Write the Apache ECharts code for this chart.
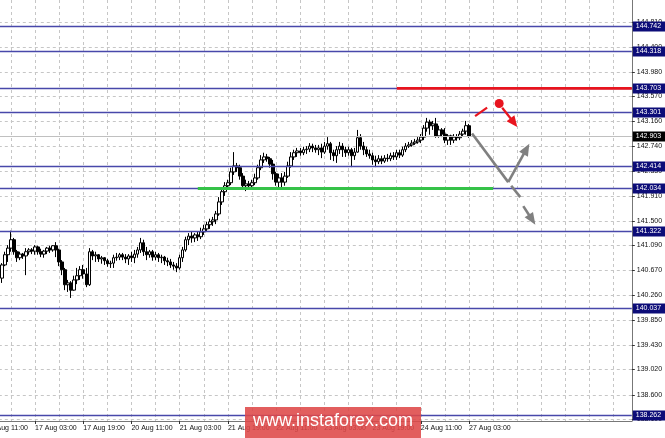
<!DOCTYPE html>
<html>
<head>
<meta charset="utf-8">
<script src="https://cdn.jsdelivr.net/npm/echarts@6/dist/echarts.min.js"></script>
<style>
html,body{margin:0;padding:0;background:#fff;}
#chart{width:665px;height:438px;}
</style>
</head>
<body>
<div id="chart"></div>
<script>
// ---------- DATA ----------
// hourly bars, weekends skipped; first category 16 Aug 11:00
const categoryStart = [2018, 7, 16, 11];
const categoryCount = 215;
const firstBar = '16 Aug 16:00';
const lastLabelled = '27 Aug 03:00';

// [open, close, low, high]
const candles = [
[140.54,140.76,140.46,140.79],[140.76,140.93,140.74,140.98],[140.93,141.04,140.81,141.09],[141.04,141.18,140.98,141.33],
[141.18,140.98,140.93,141.21],[140.98,140.88,140.81,141.01],[140.88,140.94,140.84,140.98],[140.94,140.91,140.86,140.96],
[140.91,140.98,140.59,141.04],[140.98,141.01,140.93,141.04],[141.01,140.99,140.94,141.04],[140.99,141.06,140.93,141.09],
[141.06,140.98,140.93,141.08],[140.98,140.94,140.89,141.03],[140.94,140.99,140.88,141.01],[140.99,141.04,140.94,141.06],
[141.04,141.01,140.96,141.08],[141.01,141.08,140.98,141.09],[141.08,141.01,140.89,141.14],[141.01,140.81,140.74,141.03],
[140.81,140.68,140.59,140.84],[140.68,140.43,140.34,140.71],[140.43,140.46,140.31,140.51],[140.46,140.34,140.21,140.49],
[140.34,140.51,140.33,140.58],[140.51,140.58,140.44,140.71],[140.58,140.68,140.51,140.74],[140.68,140.61,140.53,140.76],
[140.61,140.43,140.39,140.71],[140.43,140.98,140.41,141.04],[140.98,140.91,140.84,141.01],[140.91,140.93,140.81,140.98],
[140.93,140.86,140.81,140.94],[140.86,140.88,140.78,140.91],[140.88,140.83,140.76,140.89],[140.83,140.78,140.73,140.86],
[140.78,140.79,140.71,140.83],[140.79,140.88,140.71,140.93],[140.88,140.89,140.83,140.96],[140.89,140.93,140.84,140.96],
[140.93,140.89,140.84,140.96],[140.89,140.86,140.79,140.94],[140.86,140.91,140.76,140.94],[140.91,140.88,140.81,140.98],
[140.88,140.94,140.79,141.01],[140.94,141.01,140.88,141.06],[141.01,141.13,140.96,141.21],[141.13,140.98,140.91,141.18],
[140.98,140.93,140.84,141.06],[140.93,140.98,140.88,141.01],[140.98,140.89,140.83,141.01],[140.89,140.93,140.84,140.98],
[140.93,140.88,140.81,140.96],[140.88,140.89,140.79,140.93],[140.89,140.83,140.76,140.91],[140.83,140.81,140.74,140.88],
[140.81,140.76,140.71,140.86],[140.76,140.74,140.68,140.81],[140.74,140.71,140.64,140.79],[140.71,140.88,140.68,140.93],
[140.88,141.01,140.81,141.06],[141.01,141.18,140.98,141.23],[141.18,141.24,141.09,141.29],[141.24,141.21,141.13,141.31],
[141.21,141.26,141.14,141.29],[141.26,141.23,141.16,141.31],[141.23,141.31,141.19,141.38],[141.31,141.36,141.26,141.43],
[141.36,141.43,141.31,141.48],[141.43,141.48,141.36,141.53],[141.48,141.51,141.41,141.56],[141.51,141.61,141.44,141.66],
[141.61,141.81,141.58,141.89],[141.81,141.98,141.76,142.04],[141.98,142.08,141.91,142.14],[142.08,142.13,142.01,142.18],
[142.13,142.31,142.09,142.38],[142.31,142.41,142.26,142.64],[142.41,142.38,142.31,142.46],[142.38,142.24,142.18,142.43],
[142.24,142.08,142.01,142.29],[142.08,142.11,141.99,142.18],[142.11,142.08,142.01,142.16],[142.08,142.13,142.01,142.18],
[142.13,142.21,142.09,142.28],[142.21,142.38,142.18,142.43],[142.38,142.51,142.34,142.59],[142.51,142.56,142.46,142.63],
[142.56,142.53,142.48,142.61],[142.53,142.44,142.38,142.56],[142.44,142.28,142.18,142.51],[142.28,142.14,142.08,142.31],
[142.14,142.21,142.01,142.28],[142.21,142.14,142.04,142.29],[142.14,142.24,142.08,142.31],[142.24,142.41,142.21,142.48],
[142.41,142.56,142.38,142.64],[142.56,142.63,142.51,142.68],[142.63,142.66,142.56,142.71],[142.66,142.63,142.58,142.71],
[142.63,142.68,142.59,142.73],[142.68,142.69,142.61,142.74],[142.69,142.74,142.64,142.79],[142.74,142.71,142.64,142.78],
[142.71,142.68,142.63,142.76],[142.68,142.71,142.59,142.76],[142.71,142.64,142.54,142.78],[142.64,142.74,142.61,142.81],
[142.74,142.78,142.68,142.89],[142.78,142.63,142.51,142.81],[142.63,142.58,142.49,142.68],[142.58,142.68,142.46,142.74],
[142.68,142.74,142.61,142.81],[142.74,142.68,142.56,142.79],[142.68,142.63,142.56,142.73],[142.63,142.68,142.58,142.73],
[142.68,142.58,142.39,142.71],[142.58,142.64,142.51,142.71],[142.64,142.88,142.63,143.01],[142.88,142.74,142.68,142.94],
[142.74,142.68,142.59,142.81],[142.68,142.61,142.56,142.73],[142.61,142.58,142.53,142.68],[142.58,142.51,142.43,142.63],
[142.51,142.48,142.39,142.58],[142.48,142.53,142.44,142.59],[142.53,142.49,142.44,142.58],[142.49,142.54,142.46,142.59],
[142.54,142.53,142.48,142.61],[142.53,142.58,142.49,142.63],[142.58,142.56,142.51,142.64],[142.56,142.63,142.51,142.68],
[142.63,142.59,142.54,142.68],[142.59,142.68,142.56,142.73],[142.68,142.74,142.64,142.79],[142.74,142.76,142.71,142.81],
[142.76,142.79,142.73,142.84],[142.79,142.81,142.76,142.86],[142.81,142.84,142.78,142.89],[142.84,142.89,142.79,142.94],
[142.89,143.04,142.84,143.09],[143.04,143.14,142.98,143.21],[143.14,143.08,142.93,143.18],[143.08,143.11,143.01,143.16],
[143.11,142.91,142.88,143.21],[142.91,143.01,142.88,143.08],[143.01,142.94,142.89,143.04],[142.94,142.84,142.79,143.04],
[142.84,142.91,142.76,142.94],[142.91,142.84,142.76,142.93],[142.84,142.89,142.79,142.94],[142.89,142.88,142.83,142.94],
[142.88,142.94,142.84,142.99],[142.94,142.99,142.91,143.03],[142.99,143.08,142.93,143.16],[143.08,142.903,142.88,143.11]
];

const tickLabels = ['138.190','138.600','139.020','139.430','139.850','140.260','140.670','141.090','141.500',
  '141.910','142.330','142.740','143.160','143.570','143.980','144.400','144.810'];
const levelPrices = [144.742, 144.318, 143.703, 143.301, 142.414, 142.034, 141.322, 140.037, 138.262];
const lastPrice = 142.903;
const priceMin = 138.159, priceMax = 145.175;

// zones in (category index, price)
const redZone = [135.8, 214, 143.703];
const greenZone = [69.7, 168.0, 142.034];

// forecast drawings in (category index, price)
const redSegment = [[161.6, 143.24], [165.9, 143.38]];
const redDot = [169.9, 143.45];
const redArrow = [[170.9, 143.38], [175.6, 143.06]];
const greyLine = [[160.6, 142.95], [172.7, 142.14]];
const greyUpArrow = [[172.7, 142.14], [180.0, 142.78]];
const greyDash = [[174.2, 142.08], [176.7, 141.89]];
const greyDownArrow = [[178.0, 141.74], [181.9, 141.43]];

// ---------- BUILD ----------
const MONTHS = ['Jan','Feb','Mar','Apr','May','Jun','Jul','Aug','Sep','Oct','Nov','Dec'];
const categories = [];
let t = Date.UTC(categoryStart[0], categoryStart[1], categoryStart[2], categoryStart[3]);
while (categories.length < categoryCount) {
  const d = new Date(t);
  const wd = d.getUTCDay();
  if (wd !== 0 && wd !== 6) {
    const hh = String(d.getUTCHours()).padStart(2, '0');
    categories.push(d.getUTCDate() + ' ' + MONTHS[d.getUTCMonth()] + ' ' + hh + ':00');
  }
  t += 3600000;
}
const firstIndex = categories.indexOf(firstBar);
const lastLabelIndex = categories.indexOf(lastLabelled);
const candleData = candles.map((r, k) => [firstIndex + k, r[0], r[1], r[2], r[3]]);
const labelShown = (index) => index % 16 === 0 && index <= lastLabelIndex;

const FONT = 'Liberation Sans, Arial, sans-serif';
const chart = echarts.init(document.getElementById('chart'), null, {renderer: 'canvas'});

function px(api, x, y) { return api.coord([x, y]); }
function crisp(v) { return Math.round(v) + 0.5; }

function arrowShapes(api, p1, p2, color, width, headLen, headW) {
  const a = px(api, p1[0], p1[1]), b = px(api, p2[0], p2[1]);
  const dx = b[0] - a[0], dy = b[1] - a[1];
  const len = Math.sqrt(dx * dx + dy * dy);
  const ux = dx / len, uy = dy / len;
  const bx = b[0] - ux * headLen, by = b[1] - uy * headLen;
  return [
    {type: 'line', shape: {x1: a[0], y1: a[1], x2: bx + ux, y2: by + uy}, style: {stroke: color, lineWidth: width}},
    {type: 'polygon', shape: {points: [[b[0], b[1]], [bx - uy * headW / 2, by + ux * headW / 2], [bx + uy * headW / 2, by - ux * headW / 2]]},
      style: {fill: color}}
  ];
}

const option = {
  animation: false,
  backgroundColor: '#ffffff',
  grid: {left: -13.2, right: 33.2, top: 0, bottom: 17, containLabel: false, outerBoundsMode: 'none'},
  xAxis: {
    type: 'category',
    data: categories,
    boundaryGap: false,
    axisLine: {show: true, lineStyle: {color: '#777', width: 1}},
    axisTick: {show: true, interval: labelShown, length: 3, lineStyle: {color: '#333'}},
    axisLabel: {interval: labelShown, align: 'left', fontSize: 7, color: '#111', margin: 4, fontFamily: FONT},
    splitLine: {show: true, interval: 7, lineStyle: {color: '#c6c6c6', width: 1, type: [3, 3]}}
  },
  yAxis: {
    type: 'value',
    position: 'right',
    min: priceMin,
    max: priceMax,
    scale: true,
    axisLine: {show: true, lineStyle: {color: '#777', width: 1}},
    axisTick: {show: false},
    axisLabel: {show: false},
    splitLine: {show: false}
  },
  series: [
    {
      name: 'ticks',
      type: 'custom',
      z: 1,
      silent: true,
      data: tickLabels.map((s, i) => [i, parseFloat(s)]),
      encode: {x: 0, y: 1},
      renderItem: function (params, api) {
        const cs = params.coordSys;
        const i = api.value(0);
        const y = crisp(px(api, 0, api.value(1))[1]);
        const right = cs.x + cs.width;
        return {type: 'group', children: [
          {type: 'line', shape: {x1: cs.x, y1: y, x2: right, y2: y}, style: {stroke: '#c6c6c6', lineWidth: 1, lineDash: [3, 3]}},
          {type: 'line', shape: {x1: right, y1: y, x2: right + 3, y2: y}, style: {stroke: '#333', lineWidth: 1}},
          {type: 'text', x: right + 5, y: y, style: {text: tickLabels[i], fill: '#111', font: '7px ' + FONT, align: 'left', verticalAlign: 'middle'}}
        ]};
      }
    },
    {
      name: 'USDJPY',
      type: 'candlestick',
      z: 3,
      data: candleData,
      encode: {x: 0, y: [1, 2, 3, 4]},
      barWidth: 3,
      itemStyle: {color: '#ffffff', color0: '#000000', borderColor: '#000000', borderColor0: '#000000', borderWidth: 1}
    },
    {
      name: 'levels',
      type: 'custom',
      z: 4,
      silent: true,
      data: levelPrices.map((v, i) => [i, v]).concat([[-1, lastPrice]]),
      encode: {x: 0, y: 1},
      renderItem: function (params, api) {
        const cs = params.coordSys;
        const isLast = api.value(0) < 0;
        const v = api.value(1);
        const y = crisp(px(api, 0, v)[1]);
        const right = cs.x + cs.width;
        return {type: 'group', children: [
          {type: 'line', shape: {x1: cs.x, y1: y, x2: right, y2: y},
            style: {stroke: isLast ? '#c0c0c0' : '#4848aa', lineWidth: isLast ? 1 : 1.5}},
          {type: 'rect', shape: {x: right + 1, y: y - 5, width: 33, height: 10},
            style: {fill: isLast ? '#000000' : '#0c0c78'}},
          {type: 'text', x: right + 4, y: y, style: {text: v.toFixed(3), fill: '#ffffff', font: '7px ' + FONT, align: 'left', verticalAlign: 'middle'}}
        ]};
      }
    },
    {
      name: 'zones',
      type: 'custom',
      z: 5,
      silent: true,
      data: [[0, redZone[2]], [0, greenZone[2]]],
      encode: {x: 0, y: 1},
      renderItem: function (params, api) {
        const z = params.dataIndex === 0 ? redZone : greenZone;
        const color = params.dataIndex === 0 ? '#e8141e' : '#35c248';
        const a = px(api, z[0], z[2]), b = px(api, z[1], z[2]);
        return {type: 'line', shape: {x1: a[0], y1: a[1], x2: b[0], y2: b[1]}, style: {stroke: color, lineWidth: 2.8}};
      }
    },
    {
      name: 'forecast',
      type: 'custom',
      z: 6,
      silent: true,
      data: [[0, lastPrice]],
      encode: {x: 0, y: 1},
      renderItem: function (params, api) {
        const red = '#e8141e', grey = '#808080';
        const rs1 = px(api, redSegment[0][0], redSegment[0][1]), rs2 = px(api, redSegment[1][0], redSegment[1][1]);
        const dot = px(api, redDot[0], redDot[1]);
        const g1 = px(api, greyLine[0][0], greyLine[0][1]), g2 = px(api, greyLine[1][0], greyLine[1][1]);
        const d1 = px(api, greyDash[0][0], greyDash[0][1]), d2 = px(api, greyDash[1][0], greyDash[1][1]);
        const children = [
          {type: 'line', shape: {x1: rs1[0], y1: rs1[1], x2: rs2[0], y2: rs2[1]}, style: {stroke: red, lineWidth: 2.2}},
          {type: 'circle', shape: {cx: dot[0], cy: dot[1], r: 4.5}, style: {fill: red}},
          {type: 'line', shape: {x1: g1[0], y1: g1[1], x2: g2[0], y2: g2[1]}, style: {stroke: grey, lineWidth: 2.6}},
          {type: 'line', shape: {x1: d1[0], y1: d1[1], x2: d2[0], y2: d2[1]}, style: {stroke: grey, lineWidth: 2.6}}
        ];
        return {type: 'group', children: children
          .concat(arrowShapes(api, redArrow[0], redArrow[1], red, 2.2, 11, 10))
          .concat(arrowShapes(api, greyUpArrow[0], greyUpArrow[1], grey, 2.6, 12, 10))
          .concat(arrowShapes(api, greyDownArrow[0], greyDownArrow[1], grey, 2.6, 12, 10))};
      }
    }
  ],
  graphic: [
    {type: 'rect', left: 245, top: 407, z: 100, shape: {width: 176, height: 31}, style: {fill: 'rgba(222,72,72,0.88)'}},
    {type: 'text', left: 253, top: 412, z: 101, style: {text: 'www.instaforex.com', fill: '#ffffff', font: '18px ' + FONT}}
  ]
};
chart.setOption(option);
</script>
</body>
</html>
